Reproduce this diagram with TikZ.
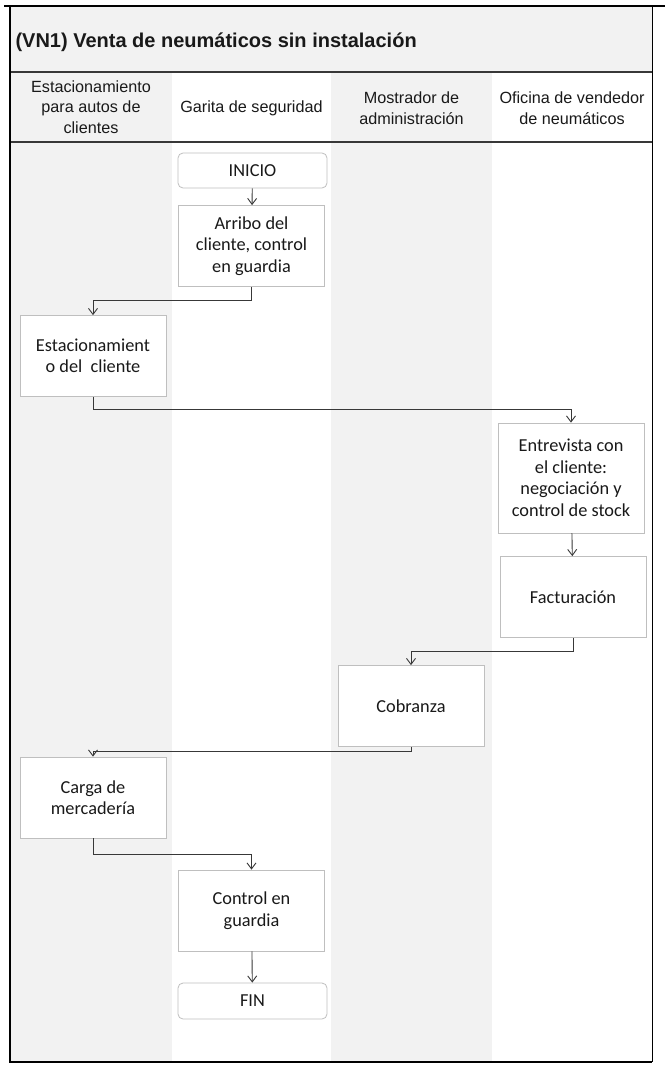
\documentclass[tikz,border=0pt]{standalone}
\usepackage{fontspec}
\setmainfont{Carlito}
\newfontfamily\headfont{Liberation Sans}
\usetikzlibrary{arrows.meta}
\definecolor{lanegray}{HTML}{F2F2F2}
\definecolor{boxgray}{HTML}{BFBFBF}
\definecolor{linegray}{HTML}{383838}

\begin{document}
\begin{tikzpicture}[x=1pt,y=-1pt,
    task/.style={draw=boxgray, fill=white, line width=0.8pt, minimum width=146pt, minimum height=81pt,
        align=center, inner sep=2pt, text=black!90, font=\fontsize{18.3}{21.5}\selectfont},
    terminal/.style={task, rounded corners=5pt, minimum height=35pt},
    lanehead/.style={align=center, text=black!90, font=\headfont\fontsize{16.2}{20.5}\selectfont},
    flow/.style={draw=linegray, line width=0.9pt, -{Straight Barb[length=6pt,width=9pt]}}]
    \useasboundingbox (0,0) rectangle (665,1070);
    \fill[white] (0,0) rectangle (665,1070);
    \fill[lanegray] (10,6) rectangle (652,72);
    \fill[lanegray] (10,72) rectangle (172,1062);
    \fill[lanegray] (331,72) rectangle (492,1062);
    \draw[linegray, line width=1.2pt] (10,72) -- (652,72);
    \draw[linegray, line width=1.2pt] (10,142) -- (652,142);
    \draw[black, line width=0.8pt] (652,6) -- (652,1062);
    \draw[black, line width=1.8pt] (4,6) -- (665,6);
    \draw[black, line width=1.8pt] (10,6) -- (10,1062) -- (652,1062);
    \node[anchor=west, text=black!90, font=\headfont\bfseries\fontsize{20}{24}\selectfont] (title) at (12,42)
        {(VN1) Venta de neumáticos sin instalación};
    \node[lanehead] (lane1) at (91,107) {Estacionamiento\\para autos de\\clientes};
    \node[lanehead] (lane2) at (251.5,108) {Garita de seguridad};
    \node[lanehead] (lane3) at (411.5,108) {Mostrador de\\administración};
    \node[lanehead] (lane4) at (572,108) {Oficina de vendedor\\de neumáticos};
    \node[terminal, minimum width=149pt] (inicio) at (252.5,170.5) {INICIO};
    \node[task] (arribo) at (251.5,246) {Arribo del\\cliente, control\\en guardia};
    \node[task] (estac) at (93,356) {Estacionamient\\o del\ \ cliente};
    \node[task, minimum height=110pt] (entrev) at (571,478) {Entrevista con\\el cliente:\\negociación y\\control de stock};
    \node[task] (factura) at (573,597) {Facturación};
    \node[task] (cobranza) at (411,706) {Cobranza};
    \node[task] (carga) at (93,797.5) {Carga de\\mercadería};
    \node[task] (control) at (251.5,910.5) {Control en\\guardia};
    \node[terminal, minimum width=149pt, minimum height=36pt] (fin) at (252.5,1001) {FIN};
    \draw[flow] (inicio) -- (arribo);
    \draw[flow] (arribo.south) -- ++(0,14) -| (estac.north);
    \draw[flow] (estac.south) -- ++(0,13) -| (entrev.north);
    \draw[flow] (entrev) -- (factura);
    \draw[flow] (factura.south) -- ++(0,14) -| (cobranza.north);
    \draw[flow] (cobranza.south) -- ++(0,5) -| (carga.north);
    \draw[flow] (carga.south) -- ++(0,16) -| (control.north);
    \draw[flow] (control) -- (fin);
\end{tikzpicture}
\end{document}
